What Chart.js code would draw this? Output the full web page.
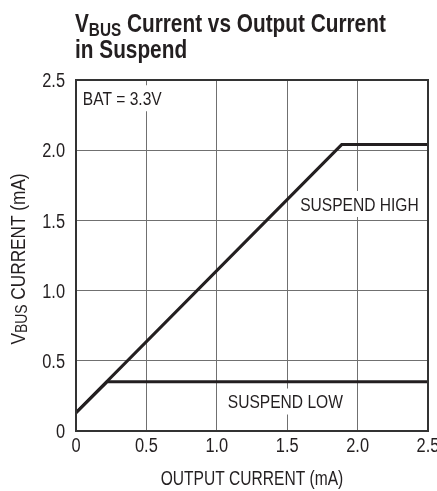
<!DOCTYPE html>
<html>
<head>
<meta charset="utf-8">
<script src="https://cdn.jsdelivr.net/npm/chart.js@4/dist/chart.umd.min.js"></script>
<style>
html,body{margin:0;padding:0;background:#fff;}
#wrap{position:relative;width:437px;height:491px;}
</style>
</head>
<body>
<div id="wrap"><canvas id="c" width="437" height="491"></canvas></div>
<script>
// ---- data ----
const xTickLabels = ['0', '0.5', '1.0', '1.5', '2.0', '2.5'];
const yTickLabels = ['0', '0.5', '1.0', '1.5', '2.0', '2.5'];
const suspendHighX = [0, 1.887, 2.5];
const suspendHighY = [0.13, 2.04, 2.04];
const suspendLowX = [0, 0.22, 2.5];
const suspendLowY = [0.13, 0.35, 0.35];
const annotations = [
  {text: 'BAT = 3.3V', x: 0.048, y: 2.37, align: 'left'},
  {text: 'SUSPEND HIGH', x: 2.013, y: 1.617, align: 'center'},
  {text: 'SUSPEND LOW', x: 1.487, y: 0.21, align: 'center'}
];
const titleMain = ['V', 'BUS', ' Current vs Output Current'];
const titleLine2 = 'in Suspend';
const yTitle = ['V', 'BUS', ' CURRENT (mA)'];
const xTitle = 'OUTPUT CURRENT (mA)';

const FAM = '"Liberation Sans", Arial, sans-serif';
const SX = 0.82;           // Helvetica-Narrow style horizontal compression
const INK = '#231f20';

function pts(xs, ys){ return xs.map((x,i)=>({x:x, y:ys[i]})); }

function textW(ctx, text, font, sx){ ctx.font = font; return ctx.measureText(text).width * (sx || SX); }
// draw horizontally compressed text; y is the cap-centre (vertical middle of capitals)
function drawText(ctx, text, x, y, font, size, align, sx){
  sx = sx || SX;
  ctx.save();
  ctx.font = font;
  const w = ctx.measureText(text).width * sx;
  let left = x;
  if (align === 'center') left = x - w/2;
  else if (align === 'right') left = x - w;
  ctx.translate(left, y + 0.358*size);
  ctx.scale(sx, 1);
  ctx.textAlign = 'left';
  ctx.textBaseline = 'alphabetic';
  ctx.fillText(text, 0, 0);
  ctx.restore();
  return w;
}

const decor = {
  id: 'decor',
  beforeDatasetsDraw(chart){
    const ctx = chart.ctx, xs = chart.scales.x, ys = chart.scales.y;
    ctx.save();
    annotations.forEach(a=>{
      const px = xs.getPixelForValue(a.x), py = ys.getPixelForValue(a.y);
      const w = textW(ctx, a.text, '19px ' + FAM);
      const left = a.align === 'left' ? px : px - w/2;
      ctx.fillStyle = '#fff';
      ctx.fillRect(left - 4, py - 13, w + 8, 26);
    });
    ctx.restore();
  },
  afterDraw(chart){
    const ctx = chart.ctx, xs = chart.scales.x, ys = chart.scales.y, ca = chart.chartArea;
    ctx.save();
    // frame
    ctx.strokeStyle = '#333';
    ctx.lineWidth = 2;
    ctx.strokeRect(ca.left, ca.top, ca.right - ca.left, ca.bottom - ca.top);
    ctx.fillStyle = INK;
    // tick labels from the library's ticks
    const tf = '20px ' + FAM;
    xs.ticks.forEach((t, i)=>{
      drawText(ctx, xTickLabels[i], xs.getPixelForTick(i), 445, tf, 20, 'center');
    });
    ys.ticks.forEach((t, i)=>{
      drawText(ctx, yTickLabels[i], ca.left - 11, ys.getPixelForTick(i), tf, 20, 'right');
    });
    // annotations
    annotations.forEach(a=>{
      const px = xs.getPixelForValue(a.x), py = ys.getPixelForValue(a.y);
      drawText(ctx, a.text, px, py, '19px ' + FAM, 19, a.align);
    });
    // main title
    let x = 75;
    x += drawText(ctx, titleMain[0], x, 32 - 0.358*26, 'bold 26px ' + FAM, 26, 'left', 0.8);
    x += drawText(ctx, titleMain[1], x, 36 - 0.358*18, 'bold 18px ' + FAM, 18, 'left', 0.85);
    drawText(ctx, titleMain[2], x, 32 - 0.358*26, 'bold 26px ' + FAM, 26, 'left', 0.8);
    drawText(ctx, titleLine2, 75, 58 - 0.358*26, 'bold 26px ' + FAM, 26, 'left', 0.8);
    // x title
    drawText(ctx, xTitle, (ca.left + ca.right)/2, 478, '20.5px ' + FAM, 20.5, 'center', 0.76);
    // y title rotated
    ctx.translate(17, 259);
    ctx.rotate(-Math.PI/2);
    const f1 = '21px ' + FAM, f2 = '17px ' + FAM;
    const w0 = textW(ctx, yTitle[0], f1), w1 = textW(ctx, yTitle[1], f2), w2 = textW(ctx, yTitle[2], f1);
    let sx = -(w0 + w1 + w2)/2;
    drawText(ctx, yTitle[0], sx, 0, f1, 21, 'left'); sx += w0;
    drawText(ctx, yTitle[1], sx, 4, f2, 17, 'left'); sx += w1;
    drawText(ctx, yTitle[2], sx, 0, f1, 21, 'left');
    ctx.restore();
  }
};

new Chart(document.getElementById('c'), {
  type: 'scatter',
  data: {
    datasets: [
      {label: 'SUSPEND HIGH', data: pts(suspendHighX, suspendHighY), showLine: true,
       borderColor: INK, borderWidth: 3, pointRadius: 0, tension: 0, fill: false},
      {label: 'SUSPEND LOW', data: pts(suspendLowX, suspendLowY), showLine: true,
       borderColor: INK, borderWidth: 3, pointRadius: 0, tension: 0, fill: false}
    ]
  },
  options: {
    responsive: false,
    animation: false,
    events: [],
    layout: {padding: {left: 0, top: 80, right: 9, bottom: 0}},
    plugins: {legend: {display: false}, tooltip: {enabled: false}, title: {display: false}},
    scales: {
      x: {
        type: 'linear', min: 0, max: 2.5,
        afterBuildTicks(s){ s.ticks = xTickLabels.map(v=>({value: parseFloat(v)})); },
        afterFit(s){ s.height = 60; s.paddingLeft = 0; s.paddingRight = 0; },
        grid: {color: '#707070', lineWidth: 1, drawTicks: false},
        border: {display: false},
        ticks: {display: false}
      },
      y: {
        type: 'linear', min: 0, max: 2.5,
        afterBuildTicks(s){ s.ticks = yTickLabels.map(v=>({value: parseFloat(v)})); },
        afterFit(s){ s.width = 76; s.paddingTop = 0; s.paddingBottom = 0; },
        grid: {color: '#707070', lineWidth: 1, drawTicks: false},
        border: {display: false},
        ticks: {display: false}
      }
    }
  },
  plugins: [decor]
});
</script>
</body>
</html>
